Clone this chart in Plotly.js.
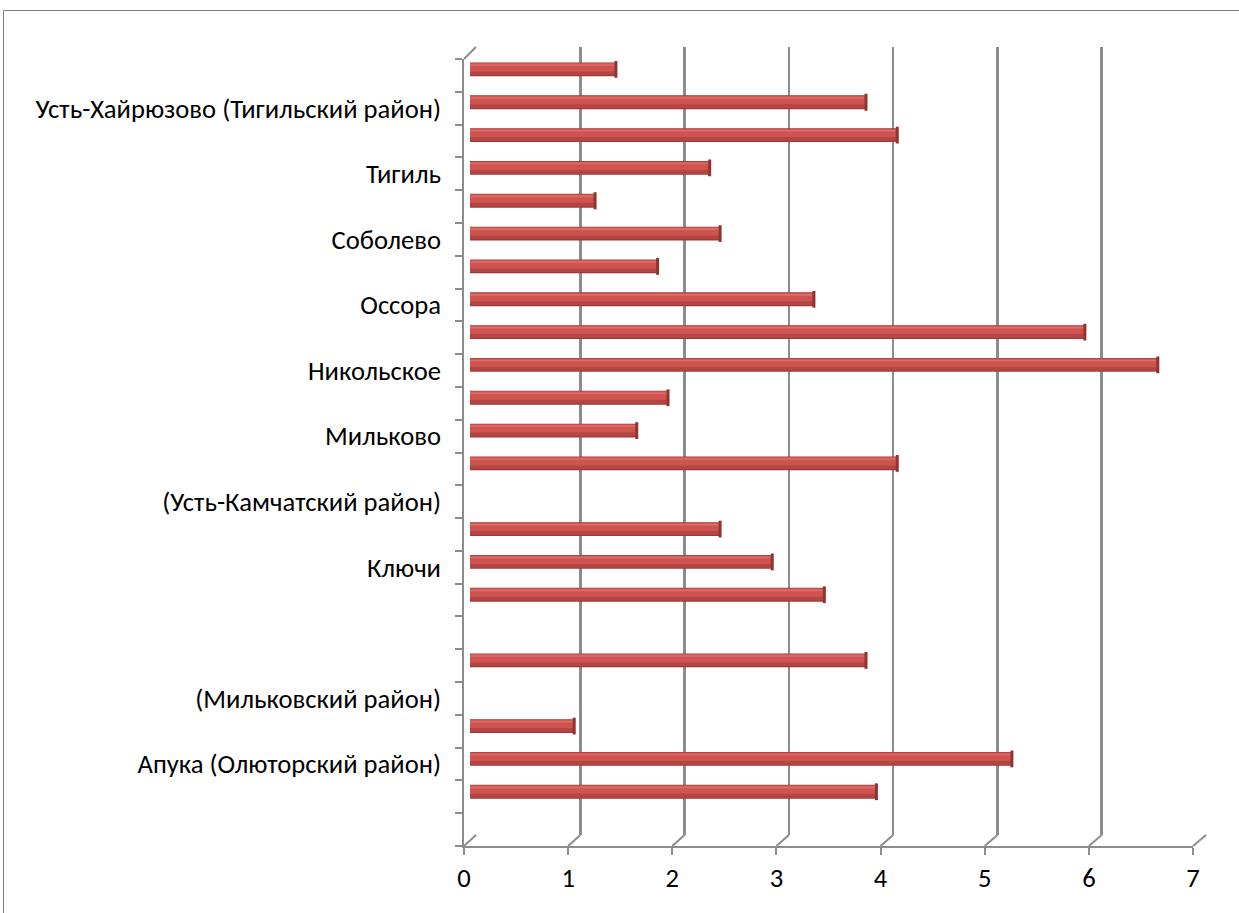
<!DOCTYPE html>
<html>
<head>
<meta charset="utf-8">
<script src="https://cdn.plot.ly/plotly-3.0.1.min.js"></script>
<style>html,body{margin:0;padding:0;background:#fff;}#chart{width:1239px;height:913px;}</style>
</head>
<body>
<div id="chart"></div>
<script>
// Slots listed top to bottom (24 category slots, labels shown on every other slot)
const slotLabels = [
  '', 'Усть-Хайрюзово (Тигильский район)', '', 'Тигиль', '', 'Соболево', '', 'Оссора',
  '', 'Никольское', '', 'Мильково', '', '(Усть-Камчатский район)', '', 'Ключи',
  '', '', '', '(Мильковский район)', '', 'Апука (Олюторский район)', '', ''
];
const values = [
  1.4, 3.8, 4.1, 2.3, 1.2, 2.4, 1.8, 3.3,
  5.9, 6.6, 1.9, 1.6, 4.1, null, 2.4, 2.9,
  3.4, null, 3.8, null, 1.0, 5.2, 3.9, null
];
const xTickValues = [0, 1, 2, 3, 4, 5, 6, 7];

const W = 1239, H = 913;
const fx = p => p / W;
const fy = p => 1 - p / H;
const slots = slotLabels.map((_, i) => i + 1);
const nSlots = slots.length;
const yRange = [nSlots + 0.5, 0.5];

const labelVals = [], labelText = [];
slots.forEach((s, i) => { if (s % 2 === 0) { labelVals.push(s); labelText.push(slotLabels[i]); } });
const boundaryVals = [];
for (let i = 0; i <= nSlots; i++) boundaryVals.push(i + 0.5);

const grey = '#8c8c8c';
const FONT = 'Carlito, Calibri, "Noto Sans", sans-serif';
const FS = 26.6;

const barLayer = (width, offset, color) => Object.assign(
  {type: 'bar', orientation: 'h', x: values, y: slots, xaxis: 'x2', yaxis: 'y2',
   width: width, marker: {color: color, line: {width: 0}}, hoverinfo: 'skip'},
  offset === null ? {} : {offset: offset});

const traces = [
  barLayer(0.42, null, '#9c3936'),
  barLayer(0.36, -0.195, '#cf5450'),
  barLayer(0.11, 0.06, '#b54543'),
  barLayer(0.05, -0.16, '#dc6d6a'),
  {type: 'scatter', mode: 'markers', x: values, y: slots, xaxis: 'x2', yaxis: 'y2',
   marker: {symbol: 'line-ns', size: 12, line: {width: 3, color: '#93332f'}}, hoverinfo: 'skip'},
  {type: 'scatter', mode: 'markers', x: [], y: [], xaxis: 'x', yaxis: 'y', hoverinfo: 'skip'},
  {type: 'scatter', mode: 'markers', x: [], y: [], xaxis: 'x3', yaxis: 'y3', hoverinfo: 'skip'},
  {type: 'scatter', mode: 'markers', x: [], y: [], xaxis: 'x3', yaxis: 'y4', hoverinfo: 'skip'}
];

// 3D floor / wall edges
const shapes = [
  {type: 'rect', xref: 'paper', yref: 'paper', x0: fx(3.5), y0: fy(10.5), x1: 1.05, y1: -0.05,
   line: {color: '#7f7f7f', width: 1}},
  {type: 'line', xref: 'paper', yref: 'paper', x0: fx(464), y0: fy(59), x1: fx(476), y1: fy(47),
   line: {color: grey, width: 2}}
];
xTickValues.forEach(v => {
  shapes.push({type: 'line', xref: 'paper', yref: 'paper',
    x0: fx(464 + v * (729 / 7)), y0: fy(846), x1: fx(476 + v * (730 / 7)), y1: fy(835),
    line: {color: grey, width: 2}});
});

const layout = {
  width: W, height: H, autosize: false,
  margin: {l: 0, r: 0, t: 0, b: 0},
  paper_bgcolor: '#fff', plot_bgcolor: 'rgba(0,0,0,0)',
  showlegend: false, barmode: 'overlay',
  font: {family: FONT, size: FS, color: '#000'},
  xaxis: {domain: [fx(476), fx(1206)], range: [0, 7], anchor: 'y', tickvals: xTickValues,
          showgrid: true, gridcolor: grey, gridwidth: 2.5, showticklabels: false, ticks: '',
          zeroline: false, showline: false, fixedrange: true},
  yaxis: {domain: [fy(835), fy(47)], range: yRange, anchor: 'x', showgrid: false,
          showticklabels: false, ticks: '', zeroline: false, showline: false, fixedrange: true},
  xaxis2: {domain: [fx(470), fx(1199.5)], range: [0, 7], anchor: 'y2', visible: false, fixedrange: true},
  yaxis2: {domain: [fy(841), fy(53)], range: yRange, anchor: 'x2', visible: false, fixedrange: true},
  xaxis3: {domain: [fx(464), fx(1193)], range: [0, 7], anchor: 'y3', tickvals: xTickValues,
           ticktext: xTickValues.map(String), showgrid: false, zeroline: false,
           showline: true, linecolor: grey, linewidth: 2, ticks: 'outside', ticklen: 7,
           tickwidth: 2, tickcolor: grey, tickfont: {family: FONT, size: FS, color: '#000'},
           fixedrange: true},
  yaxis3: {domain: [fy(846), fy(59)], range: yRange, anchor: 'x3', tickvals: boundaryVals,
           ticktext: boundaryVals.map(() => ''), showgrid: false, zeroline: false,
           showline: true, linecolor: grey, linewidth: 2, ticks: 'outside', ticklen: 7,
           tickwidth: 2, tickcolor: grey, fixedrange: true},
  yaxis4: {overlaying: 'y3', anchor: 'x3', side: 'left', range: yRange, tickvals: labelVals,
           ticktext: labelText, ticks: '', showline: false, showgrid: false, zeroline: false,
           ticklabelstandoff: 22, tickfont: {family: FONT, size: FS, color: '#000'},
           fixedrange: true},
  shapes: shapes
};

Plotly.newPlot('chart', traces, layout, {staticPlot: true, displayModeBar: false});
</script>
</body>
</html>
